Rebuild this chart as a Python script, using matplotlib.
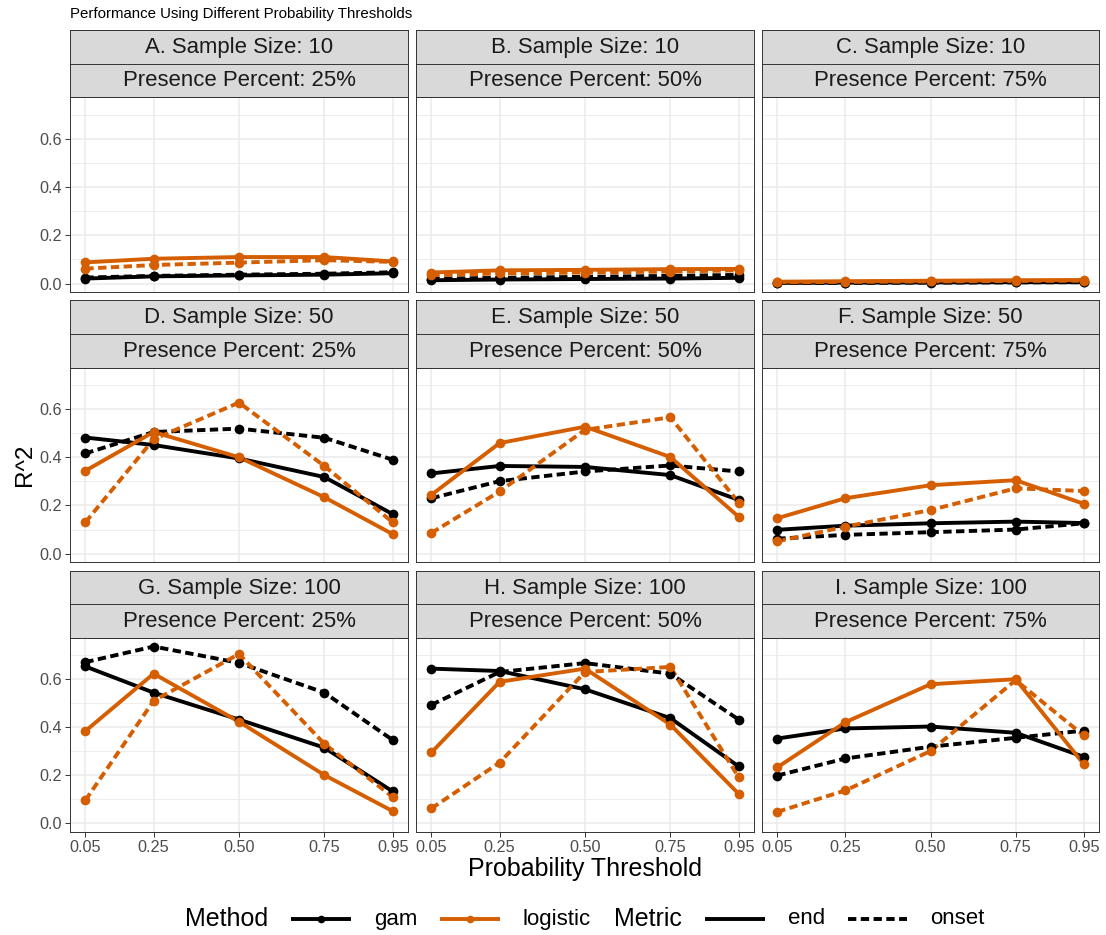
import matplotlib
matplotlib.use("Agg")
import matplotlib.pyplot as plt
from matplotlib.lines import Line2D
from matplotlib.offsetbox import AnchoredOffsetbox, HPacker, TextArea, DrawingArea

plt.rcParams["font.family"] = ["Liberation Sans", "DejaVu Sans"]
plt.rcParams["lines.scale_dashes"] = False

# ---- data -------------------------------------------------------------
thresholds = [0.05, 0.25, 0.50, 0.75, 0.95]
tick_labels = ["0.05", "0.25", "0.50", "0.75", "0.95"]
sample_sizes = [10, 50, 100]
presence_pcts = [25, 50, 75]
panel_letters = ["A", "B", "C", "D", "E", "F", "G", "H", "I"]

# one row per panel (A..I), one value per threshold
gam_end = [
    [0.021, 0.030, 0.034, 0.037, 0.043],
    [0.014, 0.017, 0.019, 0.021, 0.024],
    [0.003, 0.004, 0.005, 0.006, 0.006],
    [0.482, 0.451, 0.395, 0.318, 0.164],
    [0.333, 0.364, 0.360, 0.326, 0.223],
    [0.099, 0.116, 0.126, 0.133, 0.127],
    [0.653, 0.544, 0.432, 0.315, 0.133],
    [0.644, 0.634, 0.558, 0.438, 0.237],
    [0.353, 0.395, 0.403, 0.377, 0.277],
]
gam_onset = [
    [0.025, 0.032, 0.037, 0.041, 0.047],
    [0.020, 0.024, 0.028, 0.032, 0.036],
    [0.002, 0.003, 0.004, 0.005, 0.006],
    [0.416, 0.505, 0.519, 0.481, 0.390],
    [0.230, 0.301, 0.341, 0.366, 0.341],
    [0.062, 0.078, 0.089, 0.100, 0.126],
    [0.671, 0.736, 0.668, 0.544, 0.347],
    [0.493, 0.630, 0.667, 0.623, 0.432],
    [0.199, 0.270, 0.319, 0.356, 0.386],
]
logistic_end = [
    [0.088, 0.103, 0.110, 0.110, 0.092],
    [0.046, 0.055, 0.057, 0.060, 0.061],
    [0.008, 0.010, 0.012, 0.014, 0.015],
    [0.344, 0.505, 0.400, 0.234, 0.081],
    [0.244, 0.459, 0.527, 0.401, 0.153],
    [0.147, 0.230, 0.284, 0.305, 0.207],
    [0.384, 0.623, 0.423, 0.201, 0.051],
    [0.295, 0.589, 0.644, 0.411, 0.123],
    [0.233, 0.421, 0.579, 0.600, 0.247],
]
logistic_onset = [
    [0.062, 0.077, 0.087, 0.097, 0.090],
    [0.035, 0.042, 0.046, 0.050, 0.055],
    [0.005, 0.007, 0.009, 0.011, 0.012],
    [0.130, 0.475, 0.627, 0.364, 0.130],
    [0.086, 0.258, 0.514, 0.566, 0.212],
    [0.051, 0.112, 0.181, 0.271, 0.260],
    [0.096, 0.510, 0.705, 0.331, 0.110],
    [0.062, 0.253, 0.630, 0.651, 0.192],
    [0.048, 0.137, 0.301, 0.596, 0.366],
]

# ---- styling ---------------------------------------------------------
COL_GAM = "#000000"
COL_LOG = "#D55E00"
LW = 2.8
MS = 7.0
DASH = (6.0, 3.2)
series = [
    (gam_end, COL_GAM, "solid"),
    (gam_onset, COL_GAM, "dashed"),
    (logistic_end, COL_LOG, "solid"),
    (logistic_onset, COL_LOG, "dashed"),
]

W, H = 1106, 935
fig = plt.figure(figsize=(W / 100, H / 100), dpi=100)

col_px = [(70, 408), (416, 754), (762, 1099)]
row_px = [(97, 292), (367.5, 562), (637.7, 831.7)]
strip_h = 33.5

all_vals = [v for s in (gam_end, gam_onset, logistic_end, logistic_onset) for r in s for v in r]
lo, hi = min(all_vals), max(all_vals)
pad = 0.05 * (hi - lo)
ylim = (lo - pad, hi + pad)
xpad = 0.05 * (thresholds[-1] - thresholds[0])
xlim = (thresholds[0] - xpad, thresholds[-1] + xpad)


def frac_rect(x0, x1, ytop, ybot):
    return [x0 / W, 1 - ybot / H, (x1 - x0) / W, (ybot - ytop) / H]


for r in range(3):
    for c in range(3):
        k = r * 3 + c
        x0, x1 = col_px[c]
        yt, yb = row_px[r]
        ax = fig.add_axes(frac_rect(x0, x1, yt, yb))
        ax.set_facecolor("white")
        ax.set_xlim(*xlim)
        ax.set_ylim(*ylim)
        ax.set_xticks(thresholds)
        ax.set_yticks([0.0, 0.2, 0.4, 0.6])
        ax.set_yticks([0.1, 0.3, 0.5, 0.7], minor=True)
        ax.grid(True, which="major", color="#EBEBEB", lw=1.1, zorder=0)
        ax.grid(True, which="minor", axis="y", color="#EBEBEB", lw=0.6, zorder=0)
        ax.set_axisbelow(True)
        for sp in ax.spines.values():
            sp.set_color("#333333")
            sp.set_linewidth(0.7)
            sp.set_zorder(5)
        ax.tick_params(which="major", length=3.5, width=0.7, color="#333333",
                       labelsize=11.7, labelcolor="#4D4D4D", pad=2.2)
        ax.tick_params(which="minor", length=0)
        if c == 0:
            ax.set_yticklabels(["0.0", "0.2", "0.4", "0.6"])
        else:
            ax.tick_params(axis="y", which="major", length=0, labelleft=False)
        if r == 2:
            ax.set_xticklabels(tick_labels)
        else:
            ax.tick_params(axis="x", which="major", length=0, labelbottom=False)

        for data, colr, ls in series:
            ln, = ax.plot(thresholds, data[k], color=colr, lw=LW,
                          solid_capstyle="butt", dash_capstyle="butt",
                          solid_joinstyle="round", dash_joinstyle="round", zorder=2)
            if ls == "dashed":
                ln.set_dashes(DASH)
        for data, colr, ls in series:
            ax.plot(thresholds, data[k], linestyle="none", marker="o", ms=MS,
                    color=colr, markeredgewidth=0, zorder=3)

        # facet strips
        labels = [f"{panel_letters[k]}. Sample Size: {sample_sizes[r]}",
                  f"Presence Percent: {presence_pcts[c]}%"]
        for j, lab in enumerate(labels):
            top = yt - strip_h * (2 - j)
            sax = fig.add_axes(frac_rect(x0, x1, top, top + strip_h))
            sax.set_facecolor("#D9D9D9")
            sax.set_xticks([])
            sax.set_yticks([])
            for sp in sax.spines.values():
                sp.set_color("#333333")
                sp.set_linewidth(0.7)
            sax.text(0.5, 0.48, lab, ha="center", va="center", fontsize=15.9,
                     color="#1A1A1A", transform=sax.transAxes)

fig.text(70 / W, 1 - 14 / H, "Performance Using Different Probability Thresholds",
         ha="left", va="center", fontsize=10.8, color="black")
fig.text(25 / W, 1 - 464.5 / H, "R^2", rotation=90, ha="center", va="center",
         fontsize=17.5, color="black")
fig.text(585 / W, 1 - 869 / H, "Probability Threshold", ha="center", va="center",
         fontsize=18, color="black")


# ---- legend -----------------------------------------------------------
def key(color, dashed=False, marker=False):
    da = DrawingArea(43, 16, 0, 0)
    ln = Line2D([0, 43], [8, 8], color=color, lw=LW, solid_capstyle="butt",
                dash_capstyle="butt")
    if dashed:
        ln.set_dashes(DASH)
    da.add_artist(ln)
    if marker:
        da.add_artist(Line2D([21.5], [8], marker="o", ms=5.5, color=color,
                             markeredgewidth=0, linestyle="none"))
    return da


def txt(s, size):
    return TextArea(s, textprops=dict(fontsize=size, color="black"))


items = [
    txt("Method", 18), key(COL_GAM, marker=True), txt("gam", 16),
    key(COL_LOG, marker=True), txt("logistic", 16),
    txt("Metric", 18), key("black"), txt("end", 16),
    key("black", dashed=True), txt("onset", 16),
]
row = HPacker(children=items, align="center", pad=0, sep=16.5)
anch = AnchoredOffsetbox(loc="center", child=row, frameon=False, pad=0,
                         bbox_to_anchor=(585 / W, 16 / H),
                         bbox_transform=fig.transFigure, borderpad=0)
fig.add_artist(anch)

fig.savefig("out.png", dpi=100, facecolor="white")
